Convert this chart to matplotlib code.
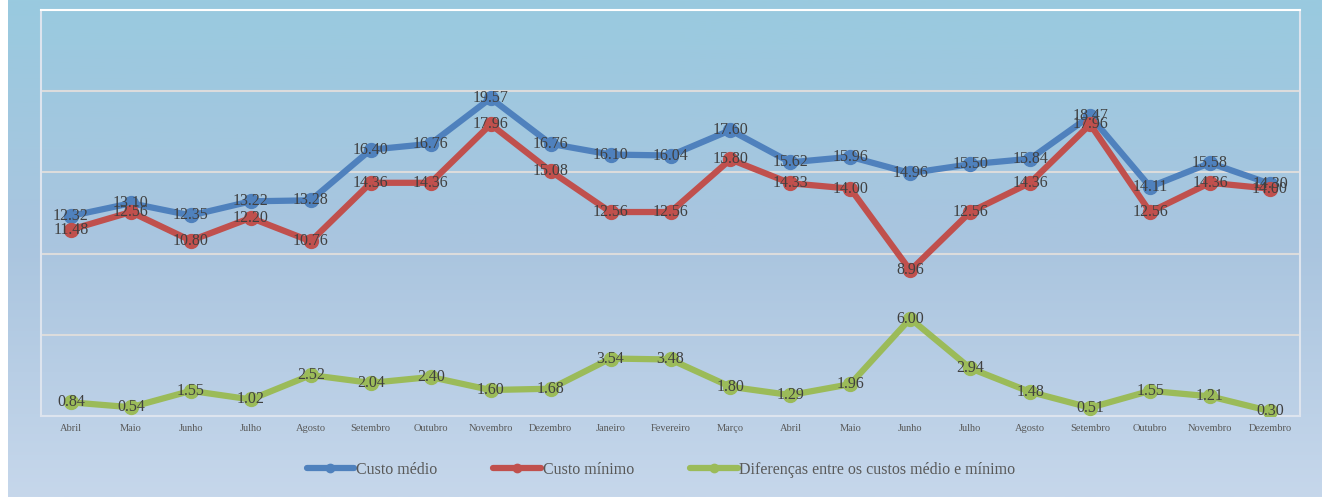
import numpy as np
import matplotlib
matplotlib.use("Agg")
from matplotlib import pyplot as plt
from matplotlib.colors import LinearSegmentedColormap

months = ['Abril', 'Maio', 'Junho', 'Julho', 'Agosto', 'Setembro', 'Outubro',
          'Novembro', 'Dezembro', 'Janeiro', 'Fevereiro', 'Março', 'Abril',
          'Maio', 'Junho', 'Julho', 'Agosto', 'Setembro', 'Outubro',
          'Novembro', 'Dezembro']
custo_medio = [12.32, 13.10, 12.35, 13.22, 13.28, 16.40, 16.76, 19.57, 16.76,
               16.10, 16.04, 17.60, 15.62, 15.96, 14.96, 15.50, 15.84, 18.47,
               14.11, 15.58, 14.30]
custo_minimo = [11.48, 12.56, 10.80, 12.20, 10.76, 14.36, 14.36, 17.96, 15.08,
                12.56, 12.56, 15.80, 14.33, 14.00, 8.96, 12.56, 14.36, 17.96,
                12.56, 14.36, 14.00]
diferencas = [0.84, 0.54, 1.55, 1.02, 2.52, 2.04, 2.40, 1.60, 1.68, 3.54, 3.48,
              1.80, 1.29, 1.96, 6.00, 2.94, 1.48, 0.51, 1.55, 1.21, 0.30]

series = [
    ('Custo médio', custo_medio, '#4f81bd'),
    ('Custo mínimo', custo_minimo, '#c0504d'),
    ('Diferenças entre os custos médio e mínimo', diferencas, '#9bbb59'),
]

W, H = 1322, 497
fig = plt.figure(figsize=(W / 100, H / 100), dpi=100)
fig.patch.set_facecolor('white')

# gradient background (leaves a thin white strip on the left)
bg = fig.add_axes([8 / W, 0, 1 - 8 / W, 1], zorder=0)
cmap = LinearSegmentedColormap.from_list('bg', ['#c6d7eb', '#aac5df', '#99cadf'])
bg.imshow(np.linspace(0, 1, 256).reshape(-1, 1), cmap=cmap, aspect='auto',
          origin='lower', extent=[0, 1, 0, 1])
bg.axis('off')

left, right, top, bottom = 41, 1300, 10, 416
ax = fig.add_axes([left / W, 1 - bottom / H, (right - left) / W, (bottom - top) / H], zorder=1)
ax.patch.set_alpha(0)

x = np.arange(len(months))
for name, vals, color in series:
    ax.plot(x, vals, color=color, lw=4.5, marker='o', ms=10, label=name,
            solid_capstyle='round', zorder=3)
    for xi, v in zip(x, vals):
        ax.text(xi, v, '%.2f' % v, ha='center', va='center', fontsize=11.5,
                family='Liberation Serif', color='#404040', zorder=4)

ax.set_xlim(-0.5, len(months) - 0.5)
ax.set_ylim(0, 25)
ax.set_yticks([0, 5, 10, 15, 20, 25])
ax.set_yticklabels([])
ax.tick_params(axis='y', length=0)
ax.grid(axis='y', color='#dcdcdc', lw=1.5)
ax.set_axisbelow(True)
ax.set_xticks(x)
ax.set_xticklabels(months, fontsize=7.5, family='Liberation Serif', color='#595959')
ax.tick_params(axis='x', length=0, pad=6)
for s in ax.spines.values():
    s.set_color('#dde4ee')
    s.set_linewidth(1.5)
ax.spines['top'].set_color('white')

leg = fig.legend(loc='center', bbox_to_anchor=(0.5, 1 - 470 / H), ncol=3,
                 frameon=False, prop={'family': 'Liberation Serif', 'size': 11.5},
                 handlelength=3.0, columnspacing=3.5, handletextpad=0.1,
                 markerscale=0.6)
for t in leg.get_texts():
    t.set_color('#595959')

fig.savefig('out.png', dpi=100)
